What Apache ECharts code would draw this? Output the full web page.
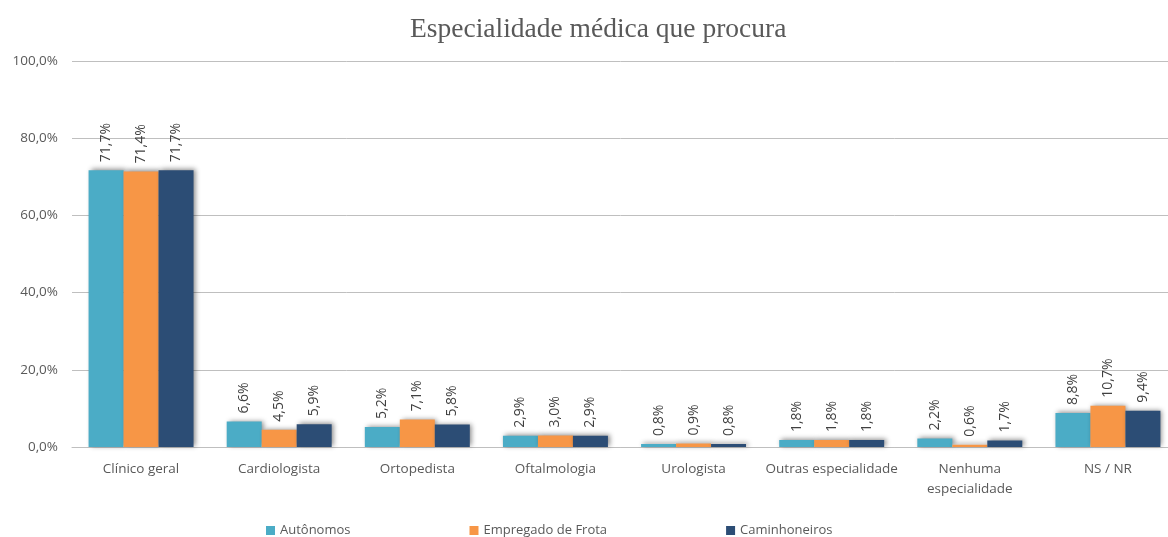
<!DOCTYPE html>
<html>
<head>
<meta charset="utf-8">
<script src="https://cdn.jsdelivr.net/npm/echarts@6/dist/echarts.min.js"></script>
<style>
  html, body { margin: 0; padding: 0; background: #fff; }
  #chart { width: 1168px; height: 537px; }
</style>
</head>
<body>
<div id="chart"></div>
<script>
var categories = ['Clínico geral', 'Cardiologista', 'Ortopedista', 'Oftalmologia', 'Urologista', 'Outras especialidade', 'Nenhuma\nespecialidade', 'NS / NR'];
var autonomos = [71.7, 6.6, 5.2, 2.9, 0.8, 1.8, 2.2, 8.8];
var empregados = [71.4, 4.5, 7.1, 3.0, 0.9, 1.8, 0.6, 10.7];
var caminhoneiros = [71.7, 5.9, 5.8, 2.9, 0.8, 1.8, 1.7, 9.4];
var yTicks = [0, 20, 40, 60, 80, 100];

var myChart = echarts.init(document.getElementById('chart'));

function fmt(v) {
  return v.toFixed(1).replace('.', ',') + '%';
}

function makeSeries(name, data, color) {
  return {
    name: name,
    type: 'bar',
    data: data,
    barGap: '0%',
    barCategoryGap: '24%',
    itemStyle: {
      color: color,
      shadowColor: 'rgba(0,0,0,0.45)',
      shadowBlur: 5,
      shadowOffsetX: 2,
      shadowOffsetY: -1
    },
    label: {
      show: true,
      position: 'top',
      rotate: 90,
      align: 'left',
      verticalAlign: 'middle',
      distance: 8,
      color: '#404040',
      fontFamily: 'Open Sans',
      fontSize: 14,
      formatter: function (p) { return fmt(p.value); }
    }
  };
}

var option = {
  backgroundColor: '#fff',
  animation: false,
  title: {
    text: 'Especialidade médica que procura',
    left: 405,
    top: 11,
    textStyle: {
      fontFamily: 'Liberation Serif',
      fontWeight: 'normal',
      fontSize: 27.5,
      color: '#595959'
    }
  },
  legend: {
    bottom: -5,
    left: 261,
    itemGap: 119,
    itemWidth: 9,
    itemHeight: 9,
    icon: 'rect',
    textStyle: { fontFamily: 'Open Sans', fontSize: 13, color: '#595959' },
    data: ['Autônomos', 'Empregado de Frota', 'Caminhoneiros']
  },
  grid: { left: 72, width: 1105, top: 61, bottom: 90, containLabel: false, outerBoundsMode: 'none' },
  xAxis: {
    type: 'category',
    data: categories,
    axisTick: { show: false },
    axisLine: { lineStyle: { color: '#BFBFBF' } },
    axisLabel: {
      color: '#595959',
      fontFamily: 'Open Sans',
      fontSize: 13.5,
      margin: 12,
      lineHeight: 20,
      interval: 0
    }
  },
  yAxis: {
    type: 'value',
    min: yTicks[0],
    max: yTicks[yTicks.length - 1],
    interval: 20,
    axisLine: { show: false },
    axisTick: { show: false },
    splitLine: { lineStyle: { color: '#BFBFBF', width: 1 } },
    axisLabel: {
      color: '#595959',
      fontFamily: 'Open Sans',
      fontSize: 13.5,
      margin: 14,
      formatter: function (v) { return fmt(v); }
    }
  },
  series: [
    makeSeries('Autônomos', autonomos, '#4BACC6'),
    makeSeries('Empregado de Frota', empregados, '#F79646'),
    makeSeries('Caminhoneiros', caminhoneiros, '#2C4D75')
  ]
};

myChart.setOption(option);
</script>
</body>
</html>
